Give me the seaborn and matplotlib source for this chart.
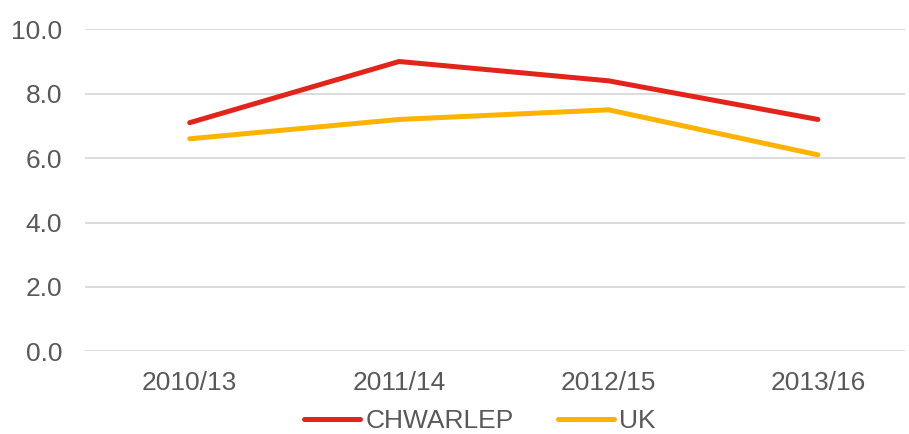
import numpy as np
import pandas as pd
import matplotlib
matplotlib.use("Agg")
import matplotlib.pyplot as plt
import seaborn as sns

# data
periods = ["2010/13", "2011/14", "2012/15", "2013/16"]
chwarlep = [7.1, 9.0, 8.4, 7.2]
uk = [6.6, 7.2, 7.5, 6.1]

sns.set_theme(style="white")
plt.rcParams["font.family"] = ["Liberation Sans", "DejaVu Sans"]

df = pd.DataFrame({
    "period": periods * 2,
    "value": chwarlep + uk,
    "series": ["CHWARLEP"] * len(periods) + ["UK"] * len(periods),
})
df["x"] = df["period"].map({p: i for i, p in enumerate(periods)})

text_col = "#595959"
red, amber = "#E3241B", "#FDB300"
fig = plt.figure(figsize=(9.09, 4.34), dpi=100)
ax = fig.add_axes([85 / 909, (434 - 351.3) / 434, 820 / 909, 322 / 434])

sns.lineplot(data=df, x="x", y="value", hue="series",
             palette={"CHWARLEP": red, "UK": amber},
             linewidth=3.6, ax=ax, legend=False,
             solid_capstyle="round", solid_joinstyle="miter")

ax.set_xlim(-0.5, 3.416)
ax.set_ylim(0, 10)
ax.set_yticks(np.arange(0, 10.1, 2))
ax.set_yticklabels([f"{v:.1f}" for v in np.arange(0, 10.1, 2)])
ax.set_xticks(range(len(periods)))
ax.set_xticklabels(periods)
ax.yaxis.grid(True, color="#D9D9D9", linewidth=1.3)
ax.set_axisbelow(True)
for s in ax.spines.values():
    s.set_visible(False)
ax.tick_params(axis="both", length=0, labelsize=19, labelcolor=text_col)
ax.tick_params(axis="y", pad=16.5)
ax.tick_params(axis="x", pad=14)
ax.set_xlabel("")
ax.set_ylabel("")

handles = [plt.Line2D([], [], color=red, lw=3.6, solid_capstyle="round"),
           plt.Line2D([], [], color=amber, lw=3.6, solid_capstyle="round")]
fig.legend(handles, ["CHWARLEP", "UK"], loc="center", bbox_to_anchor=(0.528, 1 - 421 / 434),
           ncol=2, frameon=False, fontsize=19, labelcolor=text_col,
           handlelength=2.1, handletextpad=0.2, columnspacing=1.7,
           borderpad=0, borderaxespad=0)

fig.savefig("out.png", dpi=100)
